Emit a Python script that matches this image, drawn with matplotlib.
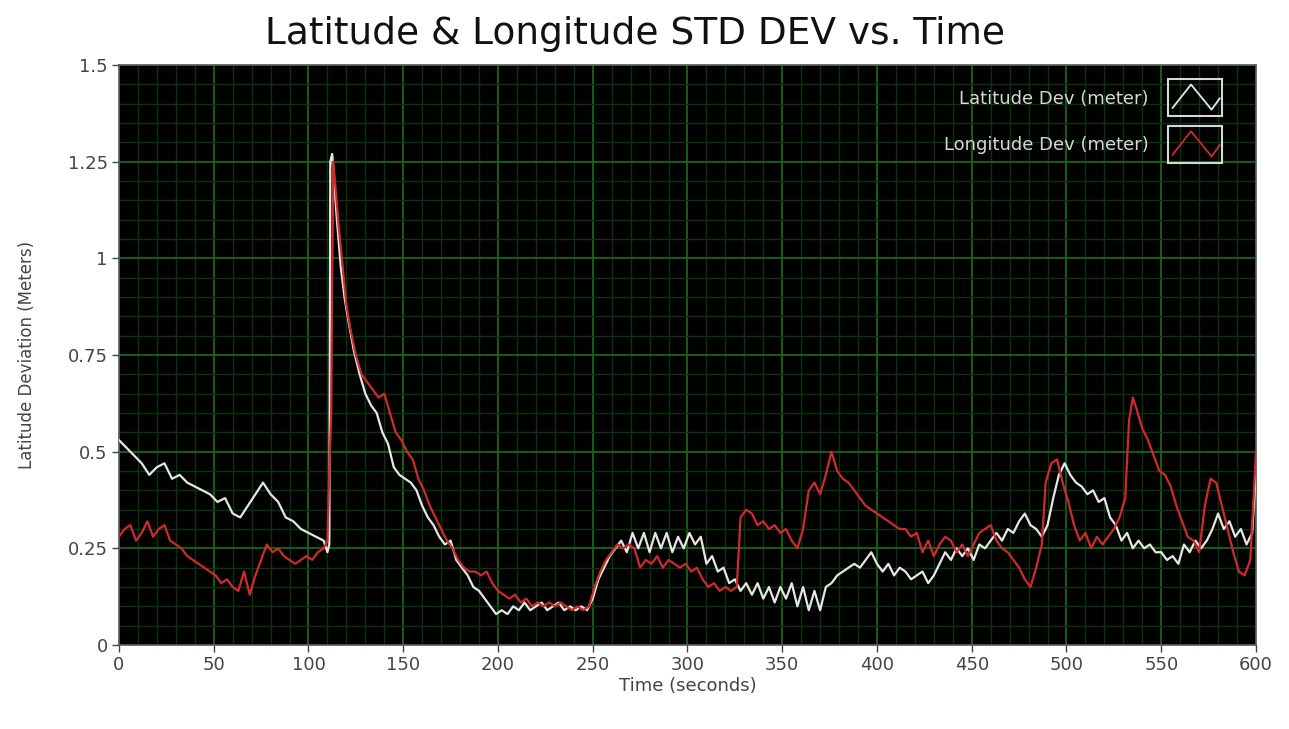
import matplotlib
matplotlib.use("Agg")
import matplotlib.pyplot as plt
from matplotlib.legend_handler import HandlerBase
from matplotlib.patches import Rectangle
from matplotlib.lines import Line2D
from matplotlib.ticker import MultipleLocator

# ---------------- data ----------------
lat_t = [0, 4, 8, 12, 16, 20, 24, 28, 32, 36, 40, 44, 48, 52, 56, 60, 64, 68, 72, 76,
         80, 84, 88, 92, 96, 100, 104, 108, 110, 111, 111.5, 112.5, 113.5, 115, 117, 119,
         121, 124, 127, 130, 133, 136, 139, 142, 145, 148, 151, 154, 157, 160, 163, 166,
         169, 172, 175, 178, 181, 184, 187, 190, 193, 196, 199, 202, 205, 208, 211, 214,
         217, 220, 223, 226, 229, 232, 235, 238, 241, 244, 247, 250, 253, 256, 259, 262,
         265, 268, 271, 274, 277, 280, 283, 286, 289, 292, 295, 298, 301, 304, 307, 310,
         313, 316, 319, 322, 325, 328, 331, 334, 337, 340, 343, 346, 349, 352, 355, 358,
         361, 364, 367, 370, 373, 376, 379, 382, 385, 388, 391, 394, 397, 400, 403, 406,
         409, 412, 415, 418, 421, 424, 427, 430, 433, 436, 439, 442, 445, 448, 451, 454,
         457, 460, 463, 466, 469, 472, 475, 478, 481, 484, 487, 490, 493, 496, 499, 502,
         505, 508, 511, 514, 517, 520, 523, 526, 529, 532, 535, 538, 541, 544, 547, 550,
         553, 556, 559, 562, 565, 568, 571, 574, 577, 580, 583, 586, 589, 592, 595, 598, 600]
lat_v = [0.53, 0.51, 0.49, 0.47, 0.44, 0.46, 0.47, 0.43, 0.44, 0.42, 0.41, 0.40, 0.39, 0.37,
         0.38, 0.34, 0.33, 0.36, 0.39, 0.42, 0.39, 0.37, 0.33, 0.32, 0.30, 0.29, 0.28, 0.27,
         0.24, 0.26, 1.25, 1.27, 1.20, 1.10, 0.98, 0.90, 0.84, 0.76, 0.70, 0.65, 0.62, 0.60,
         0.55, 0.52, 0.46, 0.44, 0.43, 0.42, 0.40, 0.36, 0.33, 0.31, 0.28, 0.26, 0.27, 0.22,
         0.20, 0.18, 0.15, 0.14, 0.12, 0.10, 0.08, 0.09, 0.08, 0.10, 0.09, 0.11, 0.09, 0.10,
         0.11, 0.09, 0.10, 0.11, 0.09, 0.10, 0.09, 0.10, 0.09, 0.12, 0.17, 0.20, 0.23, 0.25,
         0.27, 0.24, 0.29, 0.25, 0.29, 0.24, 0.29, 0.25, 0.29, 0.24, 0.28, 0.25, 0.29, 0.26,
         0.28, 0.21, 0.23, 0.19, 0.20, 0.16, 0.17, 0.14, 0.16, 0.13, 0.16, 0.12, 0.15, 0.11,
         0.15, 0.12, 0.16, 0.10, 0.15, 0.09, 0.14, 0.09, 0.15, 0.16, 0.18, 0.19, 0.20, 0.21,
         0.20, 0.22, 0.24, 0.21, 0.19, 0.21, 0.18, 0.20, 0.19, 0.17, 0.18, 0.19, 0.16, 0.18,
         0.21, 0.24, 0.22, 0.25, 0.23, 0.25, 0.22, 0.26, 0.25, 0.27, 0.29, 0.27, 0.30, 0.29,
         0.32, 0.34, 0.31, 0.30, 0.28, 0.31, 0.38, 0.44, 0.47, 0.44, 0.42, 0.41, 0.39, 0.40,
         0.37, 0.38, 0.33, 0.31, 0.27, 0.29, 0.25, 0.27, 0.25, 0.26, 0.24, 0.24, 0.22, 0.23,
         0.21, 0.26, 0.24, 0.27, 0.25, 0.27, 0.30, 0.34, 0.30, 0.32, 0.28, 0.30, 0.26, 0.29,
         0.45]

lon_t = [0, 3, 6, 9, 12, 15, 18, 21, 24, 27, 30, 33, 36, 39, 42, 45, 48, 51, 54, 57, 60,
         63, 66, 69, 72, 75, 78, 81, 84, 87, 90, 93, 96, 99, 102, 105, 108, 110, 111, 112,
         113, 114, 116, 118, 120, 122, 125, 128, 131, 134, 137, 140, 143, 146, 149, 152,
         155, 158, 161, 164, 167, 170, 173, 176, 179, 182, 185, 188, 191, 194, 197, 200,
         203, 206, 209, 212, 215, 218, 221, 224, 227, 230, 233, 236, 239, 242, 245, 248,
         251, 254, 257, 260, 263, 266, 269, 272, 275, 278, 281, 284, 287, 290, 293, 296,
         299, 302, 305, 308, 311, 314, 317, 320, 323, 326, 328, 331, 334, 337, 340, 343,
         346, 349, 352, 355, 358, 361, 364, 367, 370, 373, 376, 379, 382, 385, 388, 391,
         394, 397, 400, 403, 406, 409, 412, 415, 418, 421, 424, 427, 430, 433, 436, 439,
         442, 445, 448, 451, 454, 457, 460, 463, 466, 469, 472, 475, 478, 481, 484, 487,
         489, 492, 495, 498, 501, 504, 507, 510, 513, 516, 519, 522, 525, 528, 531, 533,
         535, 537, 540, 543, 546, 549, 552, 555, 558, 561, 564, 567, 570, 573, 576, 579,
         582, 585, 588, 591, 594, 597, 600]
lon_v = [0.28, 0.30, 0.31, 0.27, 0.29, 0.32, 0.28, 0.30, 0.31, 0.27, 0.26, 0.25, 0.23,
         0.22, 0.21, 0.20, 0.19, 0.18, 0.16, 0.17, 0.15, 0.14, 0.19, 0.13, 0.18, 0.22, 0.26,
         0.24, 0.25, 0.23, 0.22, 0.21, 0.22, 0.23, 0.22, 0.24, 0.25, 0.27, 0.45, 0.60, 1.25,
         1.20, 1.08, 0.98, 0.88, 0.82, 0.75, 0.70, 0.68, 0.66, 0.64, 0.65, 0.60, 0.55, 0.53,
         0.50, 0.48, 0.43, 0.40, 0.36, 0.33, 0.30, 0.27, 0.25, 0.22, 0.20, 0.19, 0.19, 0.18,
         0.19, 0.16, 0.14, 0.13, 0.12, 0.13, 0.11, 0.12, 0.10, 0.11, 0.10, 0.11, 0.10, 0.11,
         0.10, 0.09, 0.10, 0.09, 0.10, 0.15, 0.19, 0.22, 0.24, 0.26, 0.25, 0.26, 0.25, 0.20,
         0.22, 0.21, 0.23, 0.20, 0.22, 0.21, 0.20, 0.21, 0.19, 0.20, 0.17, 0.15, 0.16, 0.14,
         0.15, 0.14, 0.15, 0.33, 0.35, 0.34, 0.31, 0.32, 0.30, 0.31, 0.29, 0.30, 0.27, 0.25,
         0.30, 0.40, 0.42, 0.39, 0.44, 0.50, 0.45, 0.43, 0.42, 0.40, 0.38, 0.36, 0.35, 0.34,
         0.33, 0.32, 0.31, 0.30, 0.30, 0.28, 0.29, 0.24, 0.27, 0.23, 0.26, 0.28, 0.27, 0.24,
         0.26, 0.23, 0.26, 0.29, 0.30, 0.31, 0.27, 0.25, 0.24, 0.22, 0.20, 0.17, 0.15, 0.20,
         0.26, 0.42, 0.47, 0.48, 0.42, 0.37, 0.31, 0.27, 0.29, 0.25, 0.28, 0.26, 0.28, 0.30,
         0.33, 0.38, 0.58, 0.64, 0.61, 0.56, 0.53, 0.49, 0.45, 0.44, 0.41, 0.36, 0.32, 0.28,
         0.27, 0.24, 0.36, 0.43, 0.42, 0.36, 0.30, 0.24, 0.19, 0.18, 0.22, 0.50]

series_labels = ["Latitude Dev (meter)", "Longitude Dev (meter)"]
x_ticks = [0, 50, 100, 150, 200, 250, 300, 350, 400, 450, 500, 550, 600]
y_ticks = [0, 0.25, 0.5, 0.75, 1, 1.25, 1.5]
y_tick_labels = ["0", "0.25", "0.5", "0.75", "1", "1.25", "1.5"]

# ---------------- style ----------------
plt.rcParams['font.family'] = ['DejaVu Sans']
LAT_COLOR = '#e6e6e6'
LON_COLOR = '#cf2b2b'


class ZigzagHandler(HandlerBase):
    def create_artists(self, legend, orig_handle, xdescent, ydescent,
                       width, height, fontsize, trans):
        x0, y0 = -xdescent, -ydescent
        box = Rectangle((x0, y0 - 0.55 * height), width, height * 2.1,
                        fill=False, edgecolor='#d8d8d8', linewidth=1.5,
                        transform=trans)
        xs = [x0 + 0.08 * width, x0 + 0.42 * width, x0 + 0.8 * width, x0 + 0.95 * width]
        ys = [y0 - 0.1 * height, y0 + 1.25 * height, y0 - 0.2 * height, y0 + 0.45 * height]
        zig = Line2D(xs, ys, color=orig_handle.get_color(), linewidth=1.3,
                     transform=trans)
        return [box, zig]


fig = plt.figure(figsize=(12.89, 7.29), dpi=100)
fig.patch.set_facecolor('white')
ax = fig.add_axes([0.0923, 0.1152, 0.8821, 0.7956])
ax.set_facecolor('black')

ax.set_xlim(0, 600)
ax.set_ylim(0, 1.5)
ax.xaxis.set_major_locator(MultipleLocator(50))
ax.xaxis.set_minor_locator(MultipleLocator(10))
ax.yaxis.set_major_locator(MultipleLocator(0.25))
ax.yaxis.set_minor_locator(MultipleLocator(0.05))
ax.grid(which='major', color='#177017', linewidth=1.2)
ax.grid(which='minor', color='#0c340c', linewidth=1.0)
ax.set_axisbelow(True)

l1, = ax.plot(lat_t, lat_v, color=LAT_COLOR, linewidth=1.6, label=series_labels[0], zorder=3)
l2, = ax.plot(lon_t, lon_v, color=LON_COLOR, linewidth=1.6, label=series_labels[1], zorder=4)

ax.set_xticks(x_ticks)
ax.set_yticks(y_ticks)
ax.set_yticklabels(y_tick_labels)
ax.tick_params(axis='both', which='major', labelsize=13, colors='#444444',
               length=5, width=1, direction='out', pad=3)
ax.tick_params(which='minor', length=0)
for sp in ax.spines.values():
    sp.set_color('#555555')
    sp.set_linewidth(1.2)

ax.set_xlabel("Time (seconds)", fontsize=13, color='#444444', labelpad=2)
ax.set_ylabel("Latitude Deviation (Meters)", fontsize=12, color='#444444', labelpad=23)
fig.text(0.493, 0.953, "Latitude & Longitude STD DEV vs. Time", fontsize=27,
         color='#111111', ha='center', va='center')

leg = ax.legend(handles=[l1, l2], loc='upper right', bbox_to_anchor=(0.980, 0.9776),
                frameon=False, markerfirst=False, fontsize=13, labelcolor='#d8d8d8',
                handler_map={Line2D: ZigzagHandler()},
                handlelength=3.0, handleheight=1.1, labelspacing=1.55,
                handletextpad=1.1, borderaxespad=0.0, borderpad=0.6)

fig.savefig("out.png", dpi=100, facecolor='white')
